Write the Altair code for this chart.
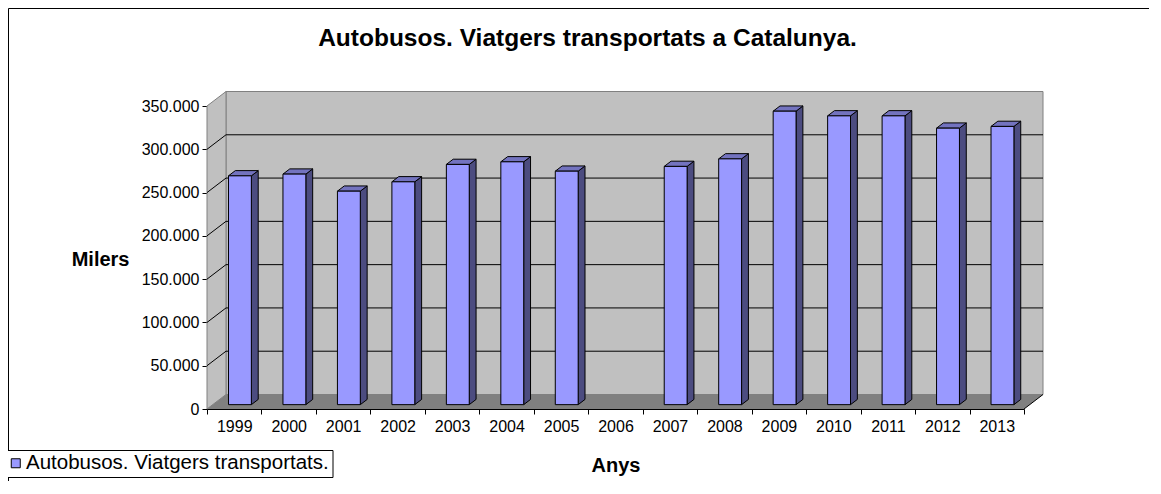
import altair as alt
import pandas as pd

# ---- data ----
years = ["1999", "2000", "2001", "2002", "2003", "2004", "2005", "2006",
         "2007", "2008", "2009", "2010", "2011", "2012", "2013"]
values = [264300, 266300, 246600, 257400, 277500, 280500, 269700, None,
          275200, 283900, 339000, 333600, 333600, 319400, 321400]
y_ticks = [0, 50000, 100000, 150000, 200000, 250000, 300000, 350000]
series_name = "Autobusos. Viatgers transportats."
title_text = "Autobusos. Viatgers transportats a Catalunya."
x_title = "Anys"
y_title = "Milers"

# ---- layout / style ----
FONT = "Liberation Sans"
W, H = 817, 303
N = len(years)
YMAX = y_ticks[-1]
DEPTH_PX = (19.0, 14.5)           # 3-D depth of the floor/walls in pixels
DX = DEPTH_PX[0] * N / W          # depth in x-scale units
DY = DEPTH_PX[1] * YMAX / H       # depth in y-scale units
FRONT = 0.30                      # depth fraction of bar front face
BD = 0.36                         # bar depth fraction
BW = 0.42                         # bar width (category units)
C_FRONT, C_SIDE, C_TOP = "#9999FF", "#4C4C80", "#7373BF"
C_WALL, C_FLOOR, C_EDGE = "#C0C0C0", "#808080", "#808080"

xscale = alt.Scale(domain=[0, N], nice=False, zero=False)
yscale = alt.Scale(domain=[0, YMAX], nice=False, zero=False)

label_expr = "datum.value < %d ? [%s][datum.value] : ''" % (
    N, ",".join("'%s'" % y for y in years))

xaxis = alt.Axis(values=list(range(N + 1)), labelExpr=label_expr,
                 labelOffset=W / N / 2, labelFlush=False, labelOverlap=False,
                 grid=False, tickSize=5, tickColor="black", domainColor="black",
                 labelColor="black", labelFont=FONT, labelFontSize=16, labelPadding=4,
                 title=x_title, titleFont=FONT, titleFontSize=20, titleFontWeight="bold",
                 titleColor="black", titleY=56, titleBaseline="middle")
yaxis = alt.Axis(values=y_ticks,
                 labelExpr="replace(format(datum.value, ','), ',', '.')",
                 grid=False, tickSize=5, tickColor="black", domainColor="black",
                 labelColor="black", labelFont=FONT, labelFontSize=16, labelPadding=3,
                 labelFlush=False, labelOverlap=False,
                 title=y_title, titleFont=FONT, titleFontSize=20, titleFontWeight="bold",
                 titleColor="black", titleAngle=0, titleAlign="right",
                 titleBaseline="middle", titleX=-78, titleY=153)


def X(f):
    return alt.X(f, type="quantitative", scale=xscale, axis=xaxis)


def Y(f):
    return alt.Y(f, type="quantitative", scale=yscale, axis=yaxis, stack=None)


# ---- walls and floor ----
back_df = pd.DataFrame({"x": [DX], "x2": [N + DX], "y": [DY], "y2": [YMAX + DY]})
back = alt.Chart(back_df).mark_rect(fill=C_WALL, stroke=C_EDGE, strokeWidth=1).encode(
    x=X("x"), x2="x2", y=Y("y"), y2="y2")

left_df = pd.DataFrame({"x": [0, DX], "y": [0, DY], "y2": [YMAX, YMAX + DY]})
left = alt.Chart(left_df).mark_area(orient="vertical", fill=C_WALL, stroke=C_EDGE,
                                    strokeWidth=1).encode(x=X("x"), y=Y("y"), y2="y2")

floor_df = pd.DataFrame({"y": [0, DY], "x": [0, DX], "x2": [N, N + DX]})
floor = alt.Chart(floor_df).mark_area(orient="horizontal", fill=C_FLOOR).encode(
    y=Y("y"), x=X("x"), x2="x2")

grid_vals = y_ticks[1:-1]
gb_df = pd.DataFrame({"x": [DX] * len(grid_vals), "x2": [N + DX] * len(grid_vals),
                      "y": [v + DY for v in grid_vals]})
grid_back = alt.Chart(gb_df).mark_rule(color="black", strokeWidth=1).encode(
    x=X("x"), x2="x2", y=Y("y"))

gd_df = pd.DataFrame({"x": [0] * len(grid_vals), "x2": [DX] * len(grid_vals),
                      "y": grid_vals, "y2": [v + DY for v in grid_vals]})
grid_diag = alt.Chart(gd_df).mark_rule(color="black", strokeWidth=1).encode(
    x=X("x"), x2="x2", y=Y("y"), y2="y2")

fe_df = pd.DataFrame({"x": [N], "x2": [N + DX], "y": [0], "y2": [DY]})
floor_edge = alt.Chart(fe_df).mark_rule(color="black", strokeWidth=1).encode(
    x=X("x"), x2="x2", y=Y("y"), y2="y2")

# ---- bars (front, side, top faces) ----
front_rows, side_rows, top_rows = [], [], []
for i, (yr, v) in enumerate(zip(years, values)):
    if v is None:
        continue
    c = i + 0.5 + FRONT * DX
    xl, xr = c - BW / 2, c + BW / 2
    yb, yt = FRONT * DY, v + FRONT * DY
    bx, by = BD * DX, BD * DY
    front_rows.append({"year": yr, "x": xl, "x2": xr, "y": yb, "y2": yt, "serie": series_name})
    side_rows.append({"year": yr, "x": xr, "y": yb, "y2": yt})
    side_rows.append({"year": yr, "x": xr + bx, "y": yb + by, "y2": yt + by})
    top_rows.append({"year": yr, "y": yt, "x": xl, "x2": xr})
    top_rows.append({"year": yr, "y": yt + by, "x": xl + bx, "x2": xr + bx})

side = alt.Chart(pd.DataFrame(side_rows)).mark_area(
    orient="vertical", fill=C_SIDE, stroke="black", strokeWidth=1).encode(
    x=X("x"), y=Y("y"), y2="y2", detail="year:N")

top = alt.Chart(pd.DataFrame(top_rows)).mark_area(
    orient="horizontal", fill=C_TOP, stroke="black", strokeWidth=1).encode(
    y=Y("y"), x=X("x"), x2="x2", detail="year:N")

front = alt.Chart(pd.DataFrame(front_rows)).mark_rect(stroke="black", strokeWidth=1).encode(
    x=X("x"), x2="x2", y=Y("y"), y2="y2",
    color=alt.Color("serie:N", scale=alt.Scale(range=[C_FRONT]),
                    legend=alt.Legend(title=None, orient="none", legendX=-204.5, legendY=344,
                                      strokeColor="black", fillColor="white", padding=3,
                                      symbolType="square", symbolSize=81,
                                      symbolStrokeColor="black", symbolStrokeWidth=1,
                                      labelOffset=0,
                                      labelFont=FONT, labelFontSize=20.5, labelColor="black",
                                      labelLimit=0, cornerRadius=0)))

# ---- outer frame (top and left border of the chart area) ----
frame_top = alt.Chart(pd.DataFrame({"k": [0]})).mark_rule(color="black", strokeWidth=1).encode(
    x=alt.value(-198.5), x2=alt.value(W + 125), y=alt.value(-97.5))
frame_left = alt.Chart(pd.DataFrame({"k": [0]})).mark_rule(color="black", strokeWidth=1).encode(
    x=alt.value(-198.5), y=alt.value(-97.5), y2=alt.value(H + 72))

chart = alt.layer(
    back, left, floor, grid_back, grid_diag, floor_edge, side, top, front,
    frame_top, frame_left
).properties(
    width=W, height=H,
    title=alt.TitleParams(text=title_text, font=FONT, fontSize=24.5, fontWeight="bold",
                          color="black", anchor="middle", dx=-28, dy=47),
    autosize=alt.AutoSizeParams(type="none"),
    padding={"left": 199, "top": 98, "right": 125, "bottom": 72},
).configure_view(stroke=None).configure(font=FONT)

chart.save("out.html", embed_options={"renderer": "svg", "actions": False})
